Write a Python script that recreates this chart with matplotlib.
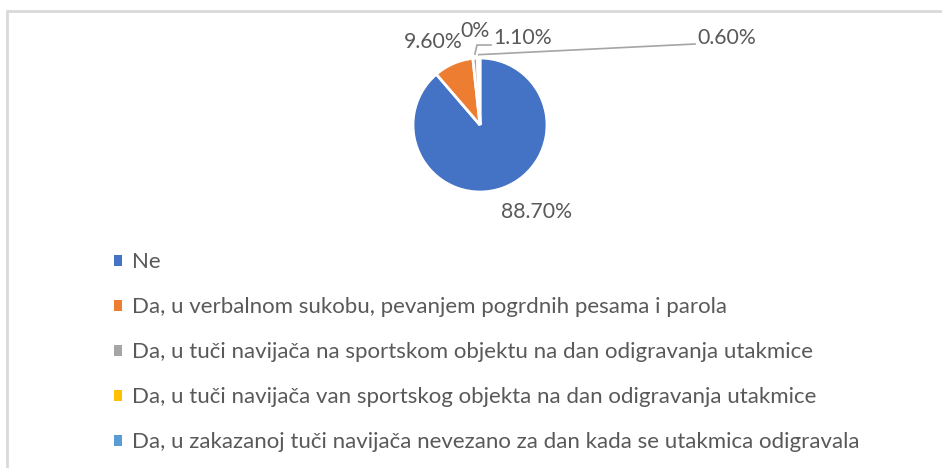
import matplotlib
matplotlib.use("Agg")
import matplotlib.pyplot as plt
from matplotlib.patches import Patch, Rectangle
import numpy as np

categories = [
    "Ne",
    "Da, u verbalnom sukobu, pevanjem pogrdnih pesama i parola",
    "Da, u tuči navijača na sportskom objektu na dan odigravanja utakmice",
    "Da, u tuči navijača van sportskog objekta na dan odigravanja utakmice",
    "Da, u zakazanoj tuči navijača nevezano za dan kada se utakmica odigravala",
]
values = [88.7, 9.6, 1.1, 0.0, 0.6]
value_labels = ["88.70%", "9.60%", "1.10%", "0%", "0.60%"]
colors = ["#4472C4", "#ED7D31", "#A5A5A5", "#FFC000", "#5B9BD5"]

TXT = "#595959"
FONT = "Lato"
W, H = 942, 468

fig = plt.figure(figsize=(W / 100, H / 100), dpi=100)
plt.rcParams['font.family'] = [FONT, 'DejaVu Sans']

# light grey chart border
fig.patches.append(Rectangle((7 / W, -0.1), 1.0, 1 - 11 / H + 0.1,
                             transform=fig.transFigure, fill=False,
                             edgecolor="#d9d9d9", linewidth=2))

# pie axes: centre (480,125) px, radius 67 px
cx, cy, r = 480, 125, 67
ax = fig.add_axes([(cx - r) / W, 1 - (cy + r) / H, 2 * r / W, 2 * r / H])
wedges, _ = ax.pie(values, colors=colors, startangle=90, counterclock=False,
                   wedgeprops=dict(edgecolor="white", linewidth=2))
ax.set_xlim(-1, 1)
ax.set_ylim(-1, 1)


def px(x, y):
    # figure pixels -> pie data units
    return (x - cx) / r, (cy - y) / r


# label positions (text centres) in pixels
label_pos = {0: (537, 212), 1: (433, 42), 2: (523, 38), 3: (475, 31), 4: (727, 38)}
for i, lab in enumerate(value_labels):
    tx, ty = px(*label_pos[i])
    ax.text(tx, ty, lab, ha="center", va="center", fontsize=15.3,
            color=TXT, clip_on=False)

# leader lines for the tiny slices
mids = []
for w in wedges:
    mids.append(np.deg2rad((w.theta1 + w.theta2) / 2))
g = mids[2]
sx, sy = 1.06 * np.cos(g), 1.06 * np.sin(g)
kx, ky = px(477, 45)
ex, ey = px(491, 45)
ax.plot([sx, kx, ex], [sy, ky, ey], color="#A5A5A5", lw=1.2, clip_on=False)
b = mids[4]
sx, sy = 1.05 * np.cos(b), 1.05 * np.sin(b)
ex, ey = px(695, 44)
ax.plot([sx, ex], [sy, ey], color="#A5A5A5", lw=1.2, clip_on=False)

handles = [Patch(facecolor=c, edgecolor="none") for c in colors]
fig.legend(handles, categories, loc="upper left",
           bbox_to_anchor=(114 / W, 1 - 252 / H), frameon=False,
           fontsize=16, labelcolor=TXT, handlelength=0.38, handleheight=0.38,
           handletextpad=0.45, labelspacing=1.13, borderpad=0, borderaxespad=0)

fig.savefig("out.png", dpi=100)
